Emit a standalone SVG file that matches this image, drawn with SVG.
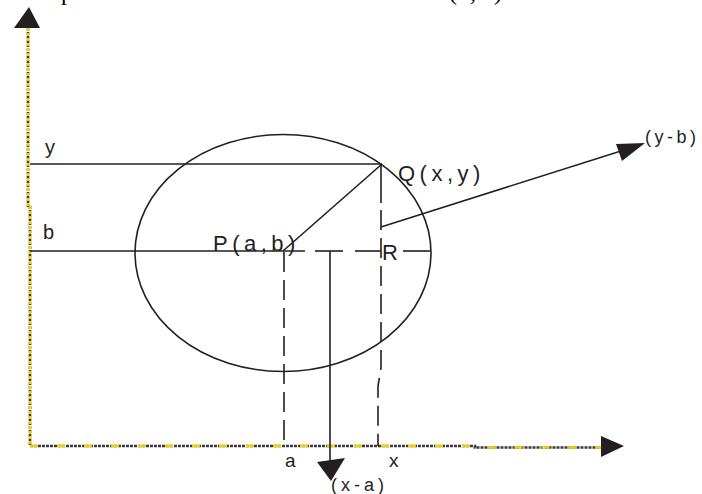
<svg xmlns="http://www.w3.org/2000/svg" width="702" height="494" viewBox="0 0 702 494">
<style>
.ln{stroke:#231f20;stroke-width:1.6;fill:none}
.ds{stroke:#231f20;stroke-width:1.6;fill:none;stroke-dasharray:20 8}
.ah{fill:#231f20;stroke:none}
.ax{stroke:#3a3a3a;stroke-width:2.6;fill:none;stroke-dasharray:3 1}
.axy{stroke:#f2d000;stroke-width:2.6;fill:none;stroke-dasharray:3 2}
.axx{stroke:#f2d000;stroke-width:2.6;fill:none;stroke-dasharray:8 19}
.t{font-family:"Liberation Sans",Arial,sans-serif;fill:#231f20}
.s{font-family:"Liberation Serif","Times New Roman",serif;fill:#000}
</style>
<rect width="702" height="494" fill="#fff"/>
<g id="clipped-title">
<text class="s" x="61" y="-0.5" font-size="24">p</text>
<text class="s" x="449 470 494" y="-0.5" font-size="24">(,)</text>
</g>
<g id="axes">
<path class="ax" d="M28 28 L28 207 L30 207 L30 446"/>
<path class="axy" d="M28 28 L28 207 L30 207 L30 446"/>
<path class="ax" d="M30 446 L475 446 L475 447.5 L603 447.5"/>
<path class="axx" d="M30 446 L475 446 L475 447.5 L603 447.5"/>
<polygon class="ah" points="29,7 14,28 40,28"/>
<polygon class="ah" points="624,446 601,436 601,457"/>
</g>
<g id="circle">
<ellipse class="ln" cx="283" cy="253" rx="148" ry="118.5"/>
</g>
<g id="connectors">
<line class="ln" x1="30" y1="164" x2="382" y2="164"/>
<line class="ln" x1="30" y1="251" x2="305" y2="251"/>
<line class="ln" x1="315" y1="251" x2="343" y2="251"/>
<line class="ln" x1="355" y1="251" x2="381" y2="251"/>
<line class="ln" x1="403" y1="251" x2="430" y2="251"/>
<line class="ln" x1="382" y1="164" x2="283" y2="251"/>
<line class="ln" x1="381" y1="164" x2="381" y2="203"/>
<path class="ds" d="M381 210 L381 368 L378 386 L378 446"/>
<path class="ds" d="M284 252 L284 446"/>
<line class="ln" x1="330" y1="251" x2="330" y2="462"/>
<polygon class="ah" points="317,462 345,458 331,481"/>
<line class="ln" x1="381" y1="227" x2="621" y2="151"/>
<polygon class="ah" points="645,143 616,144 622,161"/>
</g>
<g id="labels">
<text class="t" x="45" y="154" font-size="20">y</text>
<text class="t" x="43" y="239" font-size="20">b</text>
<text class="t" x="398" y="181" font-size="22" letter-spacing="4.5">Q(x,y)</text>
<text class="t" x="213" y="251" font-size="22" letter-spacing="4.5">P(a,b)</text>
<text class="t" x="382" y="260" font-size="22">R</text>
<text class="t" x="645" y="143" font-size="18" letter-spacing="3.5">(y-b)</text>
<text class="t" x="285" y="467" font-size="19">a</text>
<text class="t" x="389" y="467" font-size="19">x</text>
<text class="t" x="331" y="491" font-size="18" letter-spacing="4">(x-a)</text>
</g>
</svg>
